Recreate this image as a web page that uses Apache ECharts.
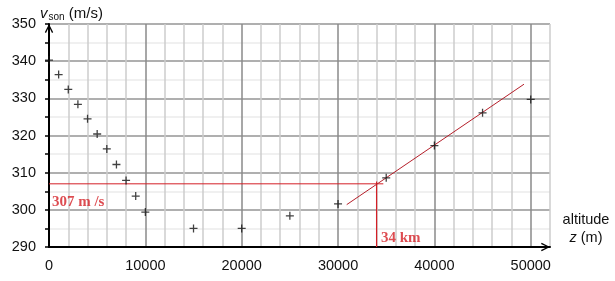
<!DOCTYPE html>
<html>
<head>
<meta charset="utf-8">
<script src="https://cdn.jsdelivr.net/npm/echarts@6/dist/echarts.min.js"></script>
<style>html,body{margin:0;padding:0;background:#fff;}#c{width:615px;height:281px;}</style>
</head>
<body>
<div id="c"></div>
<script>
// ---- data ----
const altitudes = [0, 1000, 2000, 3000, 4000, 5000, 6000, 7000, 8000, 9000, 10000, 15000, 20000, 25000, 30000, 35000, 40000, 45000, 50000];
const soundSpeeds = [340.3, 336.4, 332.4, 328.4, 324.5, 320.4, 316.4, 312.2, 307.9, 303.7, 299.4, 295.0, 295.0, 298.4, 301.6, 308.6, 317.3, 326.1, 329.7];
const fitLineX = [30900, 49300];
const fitLineY = [301.4, 333.8];
const readSpeed = 307;
const readAltitude = 34000;
const readHLineEnd = 34700;
const readVLineTop = 307.6;
const annotationTexts = ['307 m /s', '34 km'];
const annotationX = [300, 34450];
const annotationY = [302.1, 292.4];
const xTickLabels = [0, 10000, 20000, 30000, 40000, 50000];
const yTickLabels = [290, 300, 310, 320, 330, 340, 350];

const chevron = 'path://M0,10 L5,0 L10,10 L8.6,10.8 L5,3.2 L1.4,10.8 Z';
const plus = 'path://M4.2,0 H5.8 V4.2 H10 V5.8 H5.8 V10 H4.2 V5.8 H0 V4.2 H4.2 Z';

const chart = echarts.init(document.getElementById('c'), null, {renderer: 'canvas'});
chart.setOption({
  animation: false,
  backgroundColor: '#fff',
  textStyle: {fontFamily: 'Liberation Sans'},
  title: {
    left: 35, top: 0,
    text: '{v|v}{s|son}{u| (m/s)}',
    textStyle: {
      fontWeight: 'normal',
      rich: {
        v: {fontFamily: 'Liberation Sans', fontStyle: 'italic', fontWeight: 'normal', fontSize: 15, color: '#111'},
        s: {fontFamily: 'Liberation Sans', fontWeight: 'normal', fontSize: 10, color: '#111', padding: [7, 0, 0, 1]},
        u: {fontFamily: 'Liberation Sans', fontWeight: 'normal', fontSize: 15, color: '#111'}
      }
    }
  },
  grid: {left: 49, right: 65, top: 24, bottom: 34, containLabel: false},
  xAxis: {
    type: 'value', min: 0, max: 52000, interval: 2000,
    name: '{a|altitude}\n{z|z}{b| (m)}',
    nameLocation: 'end', nameGap: 36,
    nameTextStyle: {
      align: 'center', verticalAlign: 'bottom', lineHeight: 18, padding: [0, 0, 0, 0],
      rich: {
        a: {fontFamily: 'Liberation Sans', fontSize: 14.5, color: '#111', lineHeight: 18},
        z: {fontFamily: 'Liberation Sans', fontStyle: 'italic', fontSize: 14.5, color: '#111', lineHeight: 18},
        b: {fontFamily: 'Liberation Sans', fontSize: 14.5, color: '#111', lineHeight: 18}
      }
    },
    axisLine: {show: true, lineStyle: {color: '#000', width: 2}, symbol: ['none', chevron], symbolSize: [10, 9], symbolOffset: [0, -4.5]},
    axisTick: {show: false},
    axisLabel: {
      margin: 11, fontSize: 14.5, color: '#111', fontFamily: 'Liberation Sans',
      formatter: v => xTickLabels.indexOf(v) >= 0 ? String(v) : ''
    },
    splitLine: {show: true, lineStyle: {color: ['#8a8a8a', '#cccccc', '#cccccc', '#cccccc', '#cccccc'], width: 1.5}}
  },
  yAxis: {
    type: 'value', min: 290, max: 350, interval: 5,
    axisLine: {show: true, lineStyle: {color: '#000', width: 2}, symbol: ['none', chevron], symbolSize: [10, 9], symbolOffset: [0, -4.5]},
    axisTick: {show: true, inside: false, length: 4, lineStyle: {color: '#000', width: 1.5}},
    axisLabel: {
      margin: 13, fontSize: 14.5, color: '#111', fontFamily: 'Liberation Sans',
      formatter: v => yTickLabels.indexOf(v) >= 0 ? String(v) : ''
    },
    splitLine: {show: true, lineStyle: {color: ['#959595', '#ebebeb'], width: 1.5}}
  },
  series: [
    {
      type: 'line', silent: true, symbol: 'none', z: 3,
      data: [[0, readSpeed], [readHLineEnd, readSpeed]],
      lineStyle: {color: '#d41f26', width: 1}
    },
    {
      type: 'line', silent: true, symbol: 'none', z: 3,
      data: [[readAltitude, 290], [readAltitude, readVLineTop]],
      lineStyle: {color: '#d41f26', width: 1.2}
    },
    {
      type: 'line', silent: true, symbol: 'none', z: 3,
      data: fitLineX.map((x, i) => [x, fitLineY[i]]),
      lineStyle: {color: '#b51f2a', width: 1}
    },
    {
      type: 'scatter', silent: true, z: 5, zlevel: 1, clip: false,
      symbol: plus, symbolSize: 8,
      itemStyle: {color: '#111'},
      data: altitudes.map((x, i) => [x, soundSpeeds[i]])
    },
    {
      type: 'scatter', silent: true, z: 6, symbolSize: 0, clip: false,
      data: annotationTexts.map((t, i) => ({name: t, value: [annotationX[i], annotationY[i]]})),
      label: {
        show: true, position: 'right', distance: 0,
        formatter: p => p.name,
        fontFamily: 'Liberation Serif', fontWeight: 'bold', fontSize: 15, color: '#d41f26'
      }
    }
  ]
});
</script>
</body>
</html>
